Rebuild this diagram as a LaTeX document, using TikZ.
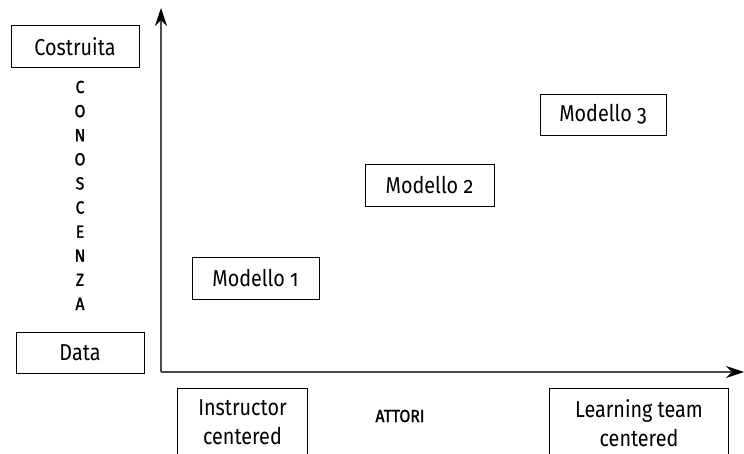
\documentclass[tikz,border=0pt]{standalone}
\usepackage{fontspec}
\setmainfont{Fira Sans}[Numbers=OldStyle,FakeStretch=0.86]
\newfontfamily\letterfont{Fira Sans}[FakeStretch=0.9,FakeBold=1.5]
\usetikzlibrary{arrows.meta}
\begin{document}
\begin{tikzpicture}[x=1pt,y=-1pt,
  box/.style={draw=black,line width=0.9pt,inner sep=0pt,font=\fontsize{23}{25}\selectfont},
  openbox/.style={inner sep=0pt,anchor=north},
  twoline/.style={font=\fontsize{23}{29}\selectfont,align=center,inner sep=0pt},
  axis/.style={draw=black!70,line width=1.5pt,-{Stealth[length=18pt,width=12pt,inset=6pt,black]}},
  letter/.style={font=\letterfont\fontsize{17.5}{19}\selectfont,inner sep=0pt}]
\useasboundingbox (0,0) rectangle (744,454);
\fill[white] (0,0) rectangle (744,454);
% axes
\coordinate (o) at (161,372);
\coordinate (ytop) at (161,8);
\coordinate (xend) at (744,372);
\draw[axis] (o) -- (ytop);
\draw[axis] (o) -- (xend);
% left boxes
\node[box,minimum width=128pt,minimum height=42pt] (costr) at (75,46.5) {Costruita};
\node[box,minimum width=128pt,minimum height=41pt] (data) at (80,352.5) {Data};
% vertical word
\foreach \l [count=\i from 0] in {C,O,N,O,S,C,E,N,Z,A}
  \node[letter] (l\i) at (80,{87+24.1*\i}) {\l};
% models
\node[box,minimum width=127pt,minimum height=42pt] (m1) at (255.5,278) {Modello 1};
\node[box,minimum width=129pt,minimum height=42pt] (m2) at (429.5,185) {Modello 2};
\node[box,minimum width=126pt,minimum height=41pt] (m3) at (603,114.5) {Modello 3};
% bottom boxes (cut by page edge)
\node[openbox,minimum width=129pt,minimum height=90pt] (instr) at (242.5,388) {};
\draw[line width=0.9pt] (instr.south west) -- (instr.north west) -- (instr.north east) -- (instr.south east);
\node[twoline] (instrt) at (242.5,422) {Instructor\\centered};
\node[openbox,minimum width=178pt,minimum height=90pt] (learn) at (639,388) {};
\draw[line width=0.9pt] (learn.south west) -- (learn.north west) -- (learn.north east) -- (learn.south east);
\node[twoline] (learnt) at (639,423) {Learning team\\centered};
\node[letter] (attori) at (400,416) {ATTORI};
\end{tikzpicture}
\end{document}
